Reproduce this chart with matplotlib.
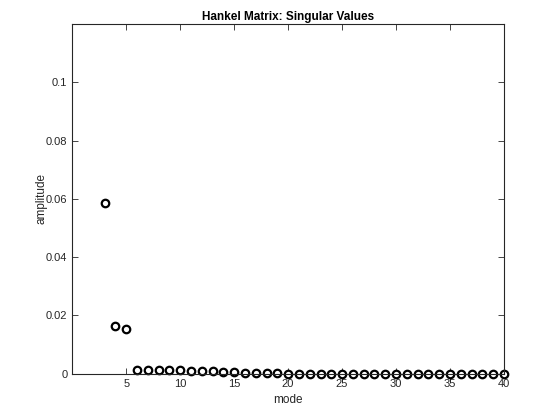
import matplotlib
matplotlib.use("Agg")
from matplotlib import pyplot as plt

plt.rcParams['font.family'] = ['Liberation Sans', 'DejaVu Sans']

# singular values of the Hankel matrix (modes 1-2 lie above the plotted range)
modes = list(range(3, 41))
sigma = [0.0585, 0.0163, 0.0152,
         0.0013, 0.0013, 0.0013, 0.0013, 0.0013, 0.0011, 0.0011, 0.0008,
         0.0005, 0.0005, 0.0004, 0.0004, 0.0004, 0.0004,
         0.0001, 0.0001, 0.0001, 0.0001, 0.0001, 0.0001, 0.0001, 0.0001,
         0.0001, 0.0001, 0.0001, 0.0001, 0.0001, 0.0001, 0.0001, 0.0001,
         0.0001, 0.0001, 0.0001, 0.0001, 0.0001]

xticks = [5, 10, 15, 20, 25, 30, 35, 40]
yticks = [0, 0.02, 0.04, 0.06, 0.08, 0.1]

fig = plt.figure(figsize=(5.6, 4.2), dpi=100)
ax = fig.add_axes([0.129, 0.11, 0.771, 0.833])

ax.plot(modes, sigma, 'o', mfc='white', mec='black', mew=1.6, ms=5.4, clip_on=False)

ax.set_xlim(0, 40)
ax.set_ylim(0, 0.12)
ax.set_xticks(xticks)
ax.set_yticks(yticks)
ax.set_yticklabels(['0', '0.02', '0.04', '0.06', '0.08', '0.1'])
ax.tick_params(direction='in', top=True, right=True, length=4, width=0.6,
               labelsize=8, colors='#262626')
for s in ax.spines.values():
    s.set_linewidth(0.8)
    s.set_color('#262626')

ax.set_xlabel('mode', fontsize=8.5, color='#262626', labelpad=4)
ax.set_ylabel('amplitude', fontsize=8.5, color='#262626')
ax.yaxis.set_label_coords(-0.058, 0.5)
ax.set_title('Hankel Matrix: Singular Values', fontsize=8.5, fontweight='bold', pad=3)

fig.savefig('out.png', dpi=100)
